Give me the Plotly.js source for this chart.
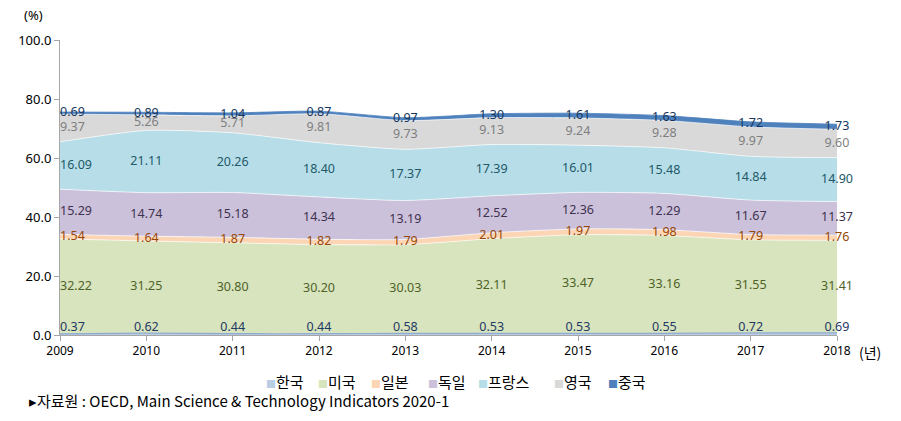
<!DOCTYPE html>
<html>
<head>
<meta charset="utf-8">
<script src="https://cdn.plot.ly/plotly-3.0.1.min.js"></script>
<style>
html,body{margin:0;padding:0;background:#fff;}
#chart{width:901px;height:421px;}
</style>
</head>
<body>
<div id="chart"></div>
<script>
const years = [2009, 2010, 2011, 2012, 2013, 2014, 2015, 2016, 2017, 2018];
const korea   = [0.37, 0.62, 0.44, 0.44, 0.58, 0.53, 0.53, 0.55, 0.72, 0.69];
const usa     = [32.22, 31.25, 30.80, 30.20, 30.03, 32.11, 33.47, 33.16, 31.55, 31.41];
const japan   = [1.54, 1.64, 1.87, 1.82, 1.79, 2.01, 1.97, 1.98, 1.79, 1.76];
const germany = [15.29, 14.74, 15.18, 14.34, 13.19, 12.52, 12.36, 12.29, 11.67, 11.37];
const france  = [16.09, 21.11, 20.26, 18.40, 17.37, 17.39, 16.01, 15.48, 14.84, 14.90];
const uk      = [9.37, 5.26, 5.71, 9.81, 9.73, 9.13, 9.24, 9.28, 9.97, 9.60];
const china   = [0.69, 0.89, 1.04, 0.87, 0.97, 1.30, 1.61, 1.63, 1.72, 1.73];
const names   = ['한국', '미국', '일본', '독일', '프랑스', '영국', '중국'];

const series = [korea, usa, japan, germany, france, uk, china];
const fills  = ['#b9cde5', '#d7e4bd', '#fcd5b5', '#ccc1da', '#b7dee8', '#d9d9d9', '#4f81bd'];
const legC   = ['#b9cde5', '#d7e4bd', '#fcd5b5', '#ccc1da', '#b7dee8', '#d9d9d9', '#4f81bd'];
const lineC  = ['#8eaad0', 'rgba(255,255,255,0.8)', 'rgba(255,255,255,0.8)', 'rgba(255,255,255,0.8)', 'rgba(255,255,255,0.8)', 'rgba(255,255,255,0.8)', '#4f81bd'];
const txtC   = ['#1f3864', '#4f6228', '#984807', '#3f3151', '#215968', '#7f7f7f', '#17375e'];
const legX   = [0.2625, 0.3295, 0.398, 0.471, 0.5355, 0.6335, 0.703];

const traces = [];
series.forEach((s, i) => {
  traces.push({
    x: years, y: s, name: names[i], type: 'scatter', mode: 'lines',
    stackgroup: 'one', fillcolor: fills[i], showlegend: false,
    line: {color: lineC[i], width: (i === 0 ? 1.2 : 0.8), shape: 'spline', smoothing: 0.6},
    hoverinfo: 'skip'
  });
});

// label traces positioned at band mid-points
const base = years.map(() => 0);
series.forEach((s, i) => {
  const ys = s.map((v, k) => base[k] + v / 2);
  const pos = s.map((v, k) => {
    if (i === 0) return k === 0 ? 'top right' : 'top center';
    return k === 0 ? 'middle right' : 'middle center';
  });
  traces.push({
    x: years, y: ys, type: 'scatter', mode: 'text',
    text: s.map(v => v.toFixed(2)), textposition: pos,
    textfont: {family: 'Noto Sans, sans-serif', size: 12.5, color: txtC[i]},
    showlegend: false, hoverinfo: 'skip', cliponaxis: false
  });
  s.forEach((v, k) => base[k] += v);
});

const legendAnn = names.map((n, i) => ({
  text: '<span style="color:' + legC[i] + ';font-size:10px">■</span>' + n,
  xref: 'paper', yref: 'paper', x: legX[i], y: -0.156, xanchor: 'left', yanchor: 'middle',
  showarrow: false, font: {family: 'Noto Sans CJK KR, sans-serif', size: 15, color: '#000'}
}));

const layout = {
  width: 901, height: 421,
  margin: {l: 60, r: 64, t: 40, b: 86},
  paper_bgcolor: '#fff', plot_bgcolor: '#fff',
  showlegend: false,
  xaxis: {
    range: [2009, 2018], tickvals: years, ticktext: years.map(String),
    showgrid: false, zeroline: false, showline: true, linecolor: '#a6a6a6', linewidth: 1,
    ticks: 'outside', ticklen: 5, tickcolor: '#a6a6a6',
    tickfont: {family: 'Noto Sans, sans-serif', size: 12, color: '#000'}
  },
  yaxis: {
    range: [0, 100], tickvals: [0, 20, 40, 60, 80, 100],
    ticktext: ['0.0', '20.0', '40.0', '60.0', '80.0', '100.0'],
    showgrid: false, zeroline: false, showline: true, linecolor: '#a6a6a6', linewidth: 1,
    ticks: 'outside', ticklen: 5, tickcolor: '#a6a6a6',
    tickfont: {family: 'Noto Sans, sans-serif', size: 13, color: '#000'}
  },
  annotations: [
    {text: '(%)', xref: 'paper', yref: 'paper', x: -0.034, y: 1.085, xanchor: 'center', yanchor: 'middle',
     showarrow: false, font: {family: 'Noto Sans, sans-serif', size: 13, color: '#000'}},
    {text: '(년)', xref: 'paper', yref: 'paper', x: 1.043, y: -0.058, xanchor: 'center', yanchor: 'middle',
     showarrow: false, font: {family: 'Noto Sans CJK KR, sans-serif', size: 14, color: '#000'}},
    {text: '▸자료원 : OECD, Main Science &amp; Technology Indicators 2020-1', xref: 'paper', yref: 'paper',
     x: -0.042, y: -0.222, xanchor: 'left', yanchor: 'middle', showarrow: false,
     font: {family: 'Noto Sans CJK KR, sans-serif', size: 15, color: '#000'}}
  ].concat(legendAnn)
};

Plotly.newPlot('chart', traces, layout, {displayModeBar: false, staticPlot: true});
</script>
</body>
</html>
